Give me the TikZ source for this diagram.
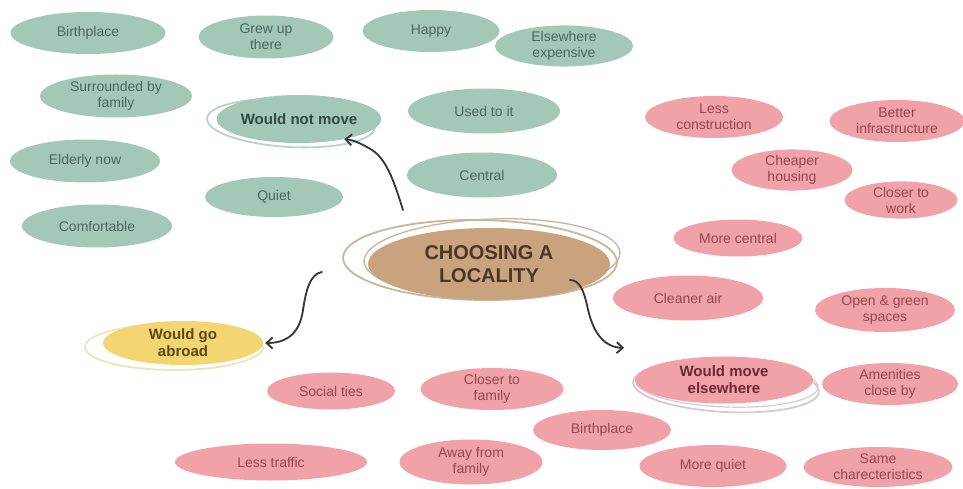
\documentclass[tikz,border=0pt]{standalone}
\usepackage{fontspec}
\setmainfont{Liberation Sans}
\usetikzlibrary{shapes.geometric,arrows.meta}
\definecolor{tealfill}{HTML}{A3C8B8}
\definecolor{tealtext}{HTML}{4A675D}
\definecolor{tealbold}{HTML}{2F4A40}
\definecolor{pinkfill}{HTML}{F0A2A8}
\definecolor{pinktext}{HTML}{95474F}
\definecolor{pinkbold}{HTML}{6B2A31}
\definecolor{yelfill}{HTML}{F3D671}
\definecolor{yeltext}{HTML}{5A4818}
\definecolor{brownfill}{HTML}{C9A27E}
\definecolor{browntext}{HTML}{4A3626}
\definecolor{ringbrown}{HTML}{C9B49D}
\definecolor{ringteal}{HTML}{BCD2C8}
\definecolor{ringpink}{HTML}{D9C9CB}
\definecolor{ringyel}{HTML}{EEE3BA}
\definecolor{arrowcol}{HTML}{353535}
\tikzset{
  bub/.style={ellipse, inner sep=0pt, align=center, font=\fontsize{14}{16}\selectfont},
  sz/.style 2 args={minimum width=#1pt, minimum height=#2pt},
  tl/.style={bub, fill=tealfill, text=tealtext},
  pk/.style={bub, fill=pinkfill, text=pinktext},
  hub/.style={bub, font=\fontsize{15}{17}\selectfont\bfseries},
  ring/.style={ellipse, draw, line width=1.8pt, fill=none, inner sep=0pt},
  arr/.style={draw=arrowcol, line width=1.8pt, line cap=round,
    -{Straight Barb[length=6pt,width=11pt,line width=1.8pt]}}
}
\begin{document}
\begin{tikzpicture}[x=1pt,y=-1pt]
\useasboundingbox[fill=white] (0,0) rectangle (963,489);

% rings behind the hubs
\node[ring, draw=ringteal, sz={168}{48}, rotate=-3] (rwnm) at (291,123) {};
\node[ring, draw=ringyel, sz={178}{46}] (rwga) at (174,347) {};
\node[ring, draw=ringpink, sz={186}{50}, rotate=-3] (rwme) at (726,387) {};
\node[ring, draw=ringpink, sz={182}{46}, rotate=-2, line width=1.2pt] (rwme2) at (727,384) {};
\node[ring, draw=ringbrown, sz={274}{80}, rotate=-1] (rctr) at (480,260) {};
\node[ring, draw=ringbrown, sz={256}{76}, rotate=2, line width=1.3pt] (rctr2) at (492,257) {};

% centre
\node[bub, fill=brownfill, text=browntext, sz={242}{72},
      font=\fontsize{20}{23}\selectfont\bfseries] (ctr) at (489,264) {CHOOSING A\\LOCALITY};

% teal: would not move
\node[tl, sz={155}{42}] (bp1) at (88,33) {Birthplace};
\node[tl, sz={135}{43}] (gut) at (266,37) {Grew up\\there};
\node[tl, sz={137}{42}] (hap) at (431,31) {Happy};
\node[tl, sz={138}{38}] (ee) at (564,46) {Elsewhere\\expensive};
\node[tl, sz={152}{43}] (sbf) at (116,96) {Surrounded by\\family};
\node[tl, hub, text=tealbold, sz={152}{48}] (wnm) at (299,119) {Would not move};
\node[tl, sz={152}{45}] (uti) at (484,111) {Used to it};
\node[tl, sz={150}{43}] (eld) at (85,161) {Elderly now};
\node[tl, sz={138}{40}] (qui) at (274,197) {Quiet};
\node[tl, sz={150}{45}] (cen) at (482,175) {Central};
\node[tl, sz={150}{43}] (com) at (97,226) {Comfortable};

% yellow: would go abroad
\node[bub, hub, fill=yelfill, text=yeltext, sz={160}{44}] (wga) at (183,343) {Would go\\abroad};

% pink: would move elsewhere
\node[pk, sz={138}{42}] (lc) at (714,117) {Less\\construction};
\node[pk, sz={135}{42}] (bi) at (897,121) {Better\\infrastructure};
\node[pk, sz={121}{37}] (ch) at (792,170) {Cheaper\\housing};
\node[pk, sz={113}{35}] (ctw) at (901,200) {Closer to\\work};
\node[pk, sz={129}{37}] (mc) at (738,238) {More central};
\node[pk, sz={150}{45}] (ca) at (688,298) {Cleaner air};
\node[pk, sz={140}{44}] (ogs) at (885,310) {Open \& green\\spaces};
\node[pk, hub, text=pinkbold, sz={178}{47}] (wme) at (724,380) {Would move\\elsewhere};
\node[pk, sz={136}{42}] (acb) at (890,384) {Amenities\\close by};
\node[pk, sz={128}{37}] (st) at (331,391) {Social ties};
\node[pk, sz={143}{42}] (ctf) at (492,389) {Closer to\\family};
\node[pk, sz={138}{40}] (bp2) at (602,430) {Birthplace};
\node[pk, sz={192}{37}] (lt) at (271,462) {Less traffic};
\node[pk, sz={143}{45}] (aff) at (471,462) {Away from\\family};
\node[pk, sz={147}{42}] (mq) at (713,466) {More quiet};
\node[pk, sz={149}{40}] (sc) at (878,467) {Same\\charecteristics};

% connectors
\coordinate (s1) at (403,210);
\coordinate (s2) at (322,272);
\coordinate (s3) at (570,280);
\coordinate (t3) at (624,348);
\draw[arr] (s1) .. controls (396,188) and (388,160) .. (372,150)
               .. controls (362,144) and (354,140) .. (wnm.-24);
\draw[arr] (s2) .. controls (310,274) and (306,290) .. (303,310)
               .. controls (300,332) and (288,343) .. ([xshift=2pt]wga.east);
\draw[arr] (s3) .. controls (580,280) and (584,292) .. (587,305)
               .. controls (592,330) and (602,347) .. (t3);
\end{tikzpicture}
\end{document}
